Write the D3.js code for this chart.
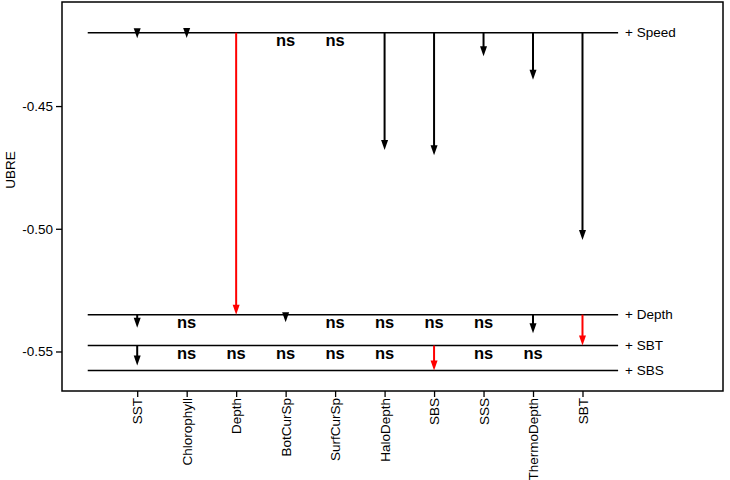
<!DOCTYPE html>
<html>
<head>
<meta charset="utf-8">
<script src="https://cdn.jsdelivr.net/npm/d3@7"></script>
<style>
    body { margin: 0; background: #fff; }
    text { font-family: "Liberation Sans", Arial, sans-serif; }
    .ns { font-weight: bold; font-size: 16.5px; }
    .axis text { font-size: 13.5px; fill: #000; }
    .axis path, .axis line { stroke: #000; stroke-width: 1.3; }
</style>
</head>
<body>
<div id="chart"></div>
<script>
// candidate variables along the x axis
const categories = ["SST", "Chlorophyll", "Depth", "BotCurSp", "SurfCurSp",
    "HaloDepth", "SBS", "SSS", "ThermoDepth", "SBT"];

// forward selection steps and the UBRE of each chosen model
const steps = ["+ Speed", "+ Depth", "+ SBT", "+ SBS"];
const stepUBRE = [-0.4201, -0.5350, -0.5476, -0.5577];

// UBRE after adding each candidate at a step ("ns" = not significant, null = nothing drawn)
const speedStep = [-0.4224, -0.4223, -0.5350, "ns", "ns", -0.4679, -0.4700, -0.4297, -0.4393, -0.5046];
const depthStep = [-0.5403, "ns", null, -0.5381, "ns", "ns", "ns", "ns", -0.5426, -0.5476];
const sbtStep = [-0.5557, "ns", "ns", "ns", "ns", "ns", -0.5577, "ns", "ns", null];

// variable picked at each step (drawn in red)
const chosen = ["Depth", "SBT", "SBS"];

const yTicks = [-0.45, -0.50, -0.55];

const W = 730, H = 480;
const margin = { top: 2, right: 7, bottom: 89, left: 62 };

const svg = d3.select("#chart").append("svg")
    .attr("width", W)
    .attr("height", H);

const x = d3.scaleLinear()
    .domain([-0.52, 12.84])
    .range([margin.left, W - margin.right]);

const y = d3.scaleLinear()
    .domain([-0.5661, -0.4076])
    .range([H - margin.bottom, margin.top]);

// plain hyphen for the minus sign, like the original
const fmt = d => d.toFixed(2);

// y axis
svg.append("g")
    .attr("class", "axis")
    .attr("transform", `translate(${margin.left},0)`)
    .call(d3.axisLeft(y).tickValues(yTicks).tickFormat(fmt).tickSize(6).tickPadding(3))
    .call(g => g.select(".domain").remove());

// x axis, labels vertical
svg.append("g")
    .attr("class", "axis")
    .attr("transform", `translate(0,${H - margin.bottom})`)
    .call(d3.axisBottom(x).tickValues(d3.range(1, categories.length + 1))
        .tickFormat(i => categories[i - 1]).tickSize(6))
    .call(g => g.select(".domain").remove())
    .selectAll("text")
    .attr("transform", "rotate(-90)")
    .attr("text-anchor", "end")
    .attr("x", -7)
    .attr("y", 0)
    .attr("dy", "0.35em");

// frame
svg.append("rect")
    .attr("x", margin.left)
    .attr("y", margin.top)
    .attr("width", W - margin.left - margin.right)
    .attr("height", H - margin.top - margin.bottom)
    .attr("fill", "none")
    .attr("stroke", "#000")
    .attr("stroke-width", 1.5);

svg.append("text")
    .attr("transform", `translate(10,170) rotate(-90)`)
    .attr("text-anchor", "middle")
    .attr("dy", "0.35em")
    .style("font-size", "13.5px")
    .text("UBRE");

// horizontal line for each selected model
const lineStart = 0, lineEnd = 10.72;

svg.selectAll(".step-line")
    .data(steps)
    .enter().append("line")
    .attr("class", "step-line")
    .attr("x1", x(lineStart))
    .attr("x2", x(lineEnd))
    .attr("y1", (d, i) => y(stepUBRE[i]))
    .attr("y2", (d, i) => y(stepUBRE[i]))
    .attr("stroke", "#000")
    .attr("stroke-width", 1.5);

svg.selectAll(".step-label")
    .data(steps)
    .enter().append("text")
    .attr("class", "step-label")
    .attr("x", x(lineEnd) + 7)
    .attr("y", (d, i) => y(stepUBRE[i]))
    .attr("dy", "0.35em")
    .style("font-size", "13.5px")
    .text(d => d);

// arrows / ns marks for each step
const stepValues = [speedStep, depthStep, sbtStep];
const headLen = 10, headHalf = 3.5;

stepValues.forEach((vals, s) => {
    const base = y(stepUBRE[s]);
    const rows = vals.map((v, i) => ({ cat: categories[i], pos: i + 1, v: v }));

    const g = svg.append("g").attr("class", "step-" + s);

    g.selectAll(".ns")
        .data(rows.filter(d => d.v === "ns"))
        .enter().append("text")
        .attr("class", "ns")
        .attr("x", d => x(d.pos))
        .attr("y", base + 13.5)
        .attr("text-anchor", "middle")
        .text("ns");

    const arrows = g.selectAll(".arrow")
        .data(rows.filter(d => typeof d.v === "number"))
        .enter().append("g")
        .attr("class", "arrow");

    const col = d => d.cat === chosen[s] ? "#ff0000" : "#000";

    arrows.append("line")
        .attr("x1", d => x(d.pos))
        .attr("x2", d => x(d.pos))
        .attr("y1", base)
        .attr("y2", d => Math.max(base, y(d.v) - headLen + 1))
        .attr("stroke", col)
        .attr("stroke-width", 2);

    arrows.append("path")
        .attr("d", d => {
            const cx = x(d.pos), ty = y(d.v);
            return `M${cx},${ty} L${cx - headHalf},${ty - headLen} L${cx + headHalf},${ty - headLen} Z`;
        })
        .attr("fill", col);
});
</script>
</body>
</html>
